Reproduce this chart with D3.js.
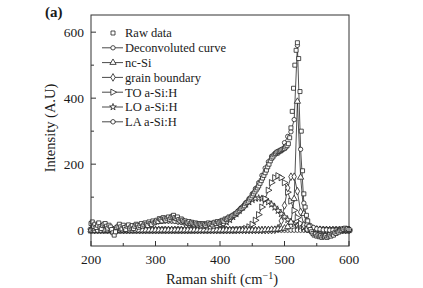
<!DOCTYPE html>
<html><head><meta charset="utf-8">
<script src="https://cdn.jsdelivr.net/npm/d3@7"></script>
<style>body{margin:0;background:#fff}svg{display:block}text{font-family:"Liberation Serif","Times New Roman",serif;fill:#1a1a1a}</style>
</head><body><svg id="c" width="423" height="288"></svg>
<script>
// ---- data ----
const rawX = d3.range(200, 601, 2);
const rawData = [
 20,25,12,18,8,15,22,10,5,14,18,20,12,6,15,10,2,-8,-15,-5,8,
 12,18,10,4,15,8,2,12,16,6,10,14,5,12,18,15,9,14,20,12,16,22,18,14,25,20,17,28,22,25,
 30,26,35,32,28,38,34,30,36,40,33,38,42,45,38,35,40,32,28,34,30,26,28,24,22,26,20,24,21,18,
 22,19,16,20,18,15,20,17,14,19,22,18,20,16,22,24,20,26,22,25,28,30,27,34,32,36,40,38,42,45,
 46,50,52,56,60,64,66,70,74,80,84,88,94,98,104,110,116,122,128,134,142,150,158,166,174,182,192,200,210,218,
 222,228,232,236,238,240,242,244,246,248,252,256,262,280,310,360,430,500,545,568,
 520,420,300,180,110,70,45,28,12,2,-5,-10,-15,-12,-18,-15,-20,-17,-22,-18,
 -20,-16,-22,-18,-14,-18,-12,-15,-8,-10,-5,-6,-2,0,4,2,6,3,5,2
];
const fitX = d3.range(200, 601, 5);
const deconvoluted = [
 0,0,0,0,1,1,2,2,3,4,5,7,8,10,12,14,16,19,21,23,
 25,26,27,28,28,28,27,25,24,22,20,18,15,14,12,11,10,10,12,14,
 17,20,26,32,41,50,60,71,83,95,110,126,144,166,188,207,224,231,233,240,
 265,284,298,335,560,245,82,30,14,8,4,3,1,1,0,0,0,0,0,0,0
];
const ncSi = [
 0,0,0,0,0,0,0,0,0,0,0,0,0,0,0,0,0,0,0,0,
 0,0,0,0,0,0,0,0,0,0,0,0,0,0,0,0,0,0,0,0,
 0,0,0,0,0,0,0,0,0,0,0,0,0,0,1,1,2,2,3,4,
 6,10,24,95,390,160,50,18,9,5,3,2,1,1,0,0,0,0,0,0,0
];
const grainBoundary = [
 0,0,0,0,0,0,0,0,0,0,0,0,0,0,0,0,0,0,0,0,
 0,0,0,0,0,0,0,0,0,0,0,0,0,0,0,0,0,0,0,0,
 0,0,0,0,0,0,0,0,0,0,0,0,0,0,0,0,0,1,6,28,
 75,128,162,162,118,55,15,3,0,0,0,0,0,0,0,0,0,0,0,0,0
];
const toASiH = [
 0,0,0,0,0,0,0,0,0,0,0,0,0,0,0,0,0,0,0,0,
 0,0,0,0,0,0,0,0,0,0,0,0,0,0,0,0,0,0,0,0,
 0,0,0,0,0,0,1,2,5,10,18,30,47,70,95,121,144,159,165,159,
 144,115,88,60,38,20,10,5,2,1,0,0,0,0,0,0,0,0,0,0,0
];
const loASiH = [
 0,0,0,0,0,0,0,0,0,0,0,0,0,0,0,0,0,0,0,0,
 0,0,0,0,0,0,0,0,0,0,0,0,0,1,1,2,3,4,7,10,
 14,18,24,31,40,49,59,69,78,85,92,96,97,96,92,85,78,69,59,49,
 40,31,24,18,14,10,7,4,3,2,1,1,0,0,0,0,0,0,0,0,0
];
const laASiH = [
 0,0,0,0,1,1,2,2,3,4,5,7,8,10,12,14,16,19,21,23,
 25,26,27,28,28,28,27,25,24,22,20,18,15,13,11,9,7,6,5,4,
 3,2,2,1,1,1,0,0,0,0,0,0,0,0,0,0,0,0,0,0,
 0,0,0,0,0,0,0,0,0,0,0,0,0,0,0,0,0,0,0,0,0
];
const legendLabels = ["Raw data","Deconvoluted curve","nc-Si","grain boundary","TO a-Si:H","LO a-Si:H","LA a-Si:H"];
const xTicks = [200,300,400,500,600];
const xMinor = [250,350,450,550];
const yTicks = [0,200,400,600];
const yMinor = [100,300,500];

// ---- chart ----
const svg = d3.select("#c");
const x = d3.scaleLinear().domain([200,600]).range([91,349]);
const y = d3.scaleLinear().domain([-48,652]).range([246,15]);

const hex = {draw(ctx,size){const r=Math.sqrt(size/2.6);for(let i=0;i<6;i++){const a=Math.PI/6+i*Math.PI/3;const px=r*Math.cos(a),py=r*Math.sin(a);i?ctx.lineTo(px,py):ctx.moveTo(px,py);}ctx.closePath();}};
const rtri = {draw(ctx,size){const r=Math.sqrt(size/1.3);ctx.moveTo(r,0);ctx.lineTo(-r*0.6,-r*0.85);ctx.lineTo(-r*0.6,r*0.85);ctx.closePath();}};

const series = [
 {name:"LA", xs:fitX, v:laASiH, sym:hex, size:15, line:true},
 {name:"LO", xs:fitX, v:loASiH, sym:d3.symbolStar, size:14, line:true},
 {name:"TO", xs:fitX, v:toASiH, sym:rtri, size:17, line:true},
 {name:"GB", xs:fitX, v:grainBoundary, sym:d3.symbolDiamond, size:17, line:true},
 {name:"nc", xs:fitX, v:ncSi, sym:d3.symbolTriangle, size:17, line:true},
 {name:"fit", xs:fitX, v:deconvoluted, sym:d3.symbolCircle, size:15, line:true},
 {name:"raw", xs:rawX, v:rawData, sym:d3.symbolSquare, size:16, line:false}
];
const line = d3.line().x(d=>x(d[0])).y(d=>y(d[1]));
const plot = svg.append("g");
series.forEach(s=>{
  const pts = s.xs.map((xx,i)=>[xx,s.v[i]]);
  if(s.line) plot.append("path").attr("d",line(pts)).attr("fill","none").attr("stroke","#1a1a1a").attr("stroke-width",0.75);
});
series.forEach(s=>{
  const pts = s.xs.map((xx,i)=>[xx,s.v[i]]);
  plot.selectAll(null).data(pts).enter().append("path")
   .attr("d",d3.symbol().type(s.sym).size(s.size))
   .attr("transform",d=>`translate(${x(d[0])},${y(d[1])})`)
   .attr("fill","#fff").attr("stroke","#222").attr("stroke-width",0.8);
});

// frame
svg.append("rect").attr("x",91).attr("y",15).attr("width",258).attr("height",231)
  .attr("fill","none").attr("stroke","#333").attr("stroke-width",1);

// ticks (inward)
const ax = svg.append("g");
xTicks.forEach(t=>{
  ax.append("line").attr("x1",x(t)).attr("x2",x(t)).attr("y1",246).attr("y2",241).attr("stroke","#333");
  ax.append("text").attr("x",x(t)).attr("y",264).attr("text-anchor","middle").attr("font-size",13.5).text(t);
});
xMinor.forEach(t=>ax.append("line").attr("x1",x(t)).attr("x2",x(t)).attr("y1",246).attr("y2",243).attr("stroke","#333"));
yTicks.forEach(t=>{
  ax.append("line").attr("x1",91).attr("x2",96).attr("y1",y(t)).attr("y2",y(t)).attr("stroke","#333");
  ax.append("text").attr("x",84).attr("y",y(t)+4.5).attr("text-anchor","end").attr("font-size",13.5).text(t);
});
yMinor.forEach(t=>ax.append("line").attr("x1",91).attr("x2",94).attr("y1",y(t)).attr("y2",y(t)).attr("stroke","#333"));

// axis titles
const xt = svg.append("text").attr("x",222).attr("y",284).attr("text-anchor","middle").attr("font-size",14.5);
xt.append("tspan").text("Raman shift  (cm");
xt.append("tspan").attr("dy",-5).attr("font-size",10).text("\u22121");
xt.append("tspan").attr("dy",5).text(")");
svg.append("text").attr("transform","translate(55,128) rotate(-90)").attr("text-anchor","middle").attr("font-size",14.5).text("Intensity (A.U)");
svg.append("text").attr("x",45).attr("y",17).attr("font-size",15).attr("font-weight","bold").text("(a)");

// legend
const legSyms = [d3.symbolSquare,d3.symbolCircle,d3.symbolTriangle,d3.symbolDiamond,rtri,d3.symbolStar,hex];
const legSizes = [16,15,17,17,17,14,15];
legendLabels.forEach((lab,i)=>{
  const cy = 33 + i*14.8;
  const g = svg.append("g");
  if(i>0) g.append("line").attr("x1",102).attr("x2",123).attr("y1",cy).attr("y2",cy).attr("stroke","#1a1a1a").attr("stroke-width",0.8);
  g.append("path").attr("d",d3.symbol().type(legSyms[i]).size(legSizes[i])).attr("transform",`translate(113,${cy})`)
    .attr("fill","#fff").attr("stroke","#222").attr("stroke-width",0.8);
  g.append("text").attr("x",125).attr("y",cy+4.3).attr("font-size",12.5).text(lab);
});
</script></body></html>
